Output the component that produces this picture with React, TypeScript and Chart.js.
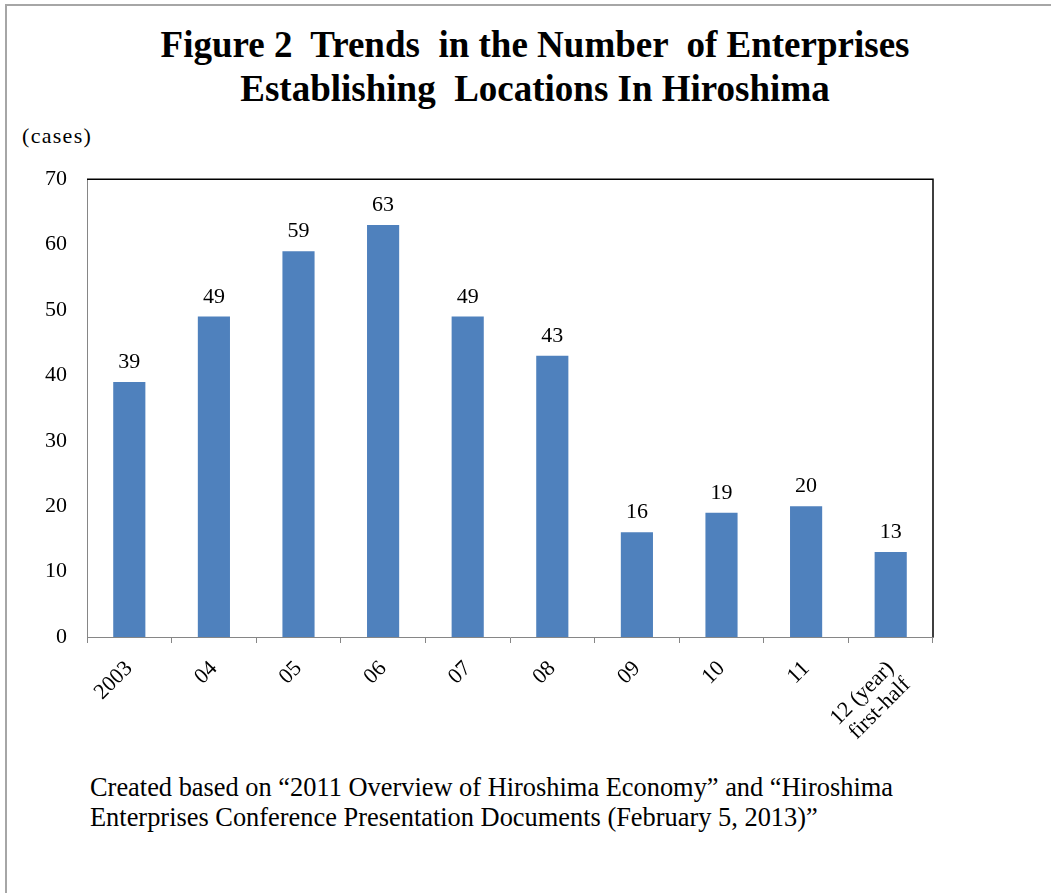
import React, { useEffect, useRef } from 'react';
import { Chart, registerables } from 'chart.js';
Chart.register(...registerables);

const categories: (string | string[])[] = ['2003', '04', '05', '06', '07', '08', '09', '10', '11', ['12 (year)', 'first-half']];
const values = [39, 49, 59, 63, 49, 43, 16, 19, 20, 13];
const yMin = 0;
const yMax = 70;
const yStep = 10;
const titleLines = ['Figure 2  Trends  in the Number  of Enterprises', 'Establishing  Locations In Hiroshima'];
const unitLabel = '(cases)';
const noteLines = [
  'Created based on \u201C2011 Overview of Hiroshima Economy\u201D and \u201CHiroshima',
  'Enterprises Conference Presentation Documents (February 5, 2013)\u201D',
];

const SERIF = "'Liberation Serif', 'Times New Roman', serif";

const frameAndLabels = {
  id: 'frameAndLabels',
  afterDraw(chart: any) {
    const { ctx, chartArea } = chart;
    ctx.save();
    ctx.strokeStyle = '#000000';
    ctx.lineWidth = 1.5;
    ctx.beginPath();
    ctx.moveTo(chartArea.left, chartArea.top);
    ctx.lineTo(chartArea.right, chartArea.top);
    ctx.lineTo(chartArea.right, chartArea.bottom);
    ctx.stroke();
    const meta = chart.getDatasetMeta(0);
    ctx.fillStyle = '#000000';
    ctx.font = `22px ${SERIF}`;
    ctx.textAlign = 'center';
    ctx.textBaseline = 'alphabetic';
    meta.data.forEach((bar: any, i: number) => {
      ctx.fillText(String(values[i]), bar.x, bar.y - 14);
    });
    ctx.restore();
  },
};

export default function App() {
  const ref = useRef<HTMLCanvasElement>(null);
  useEffect(() => {
    const chart = new Chart(ref.current!, {
      type: 'bar',
      data: {
        labels: categories as any,
        datasets: [
          {
            data: values,
            backgroundColor: '#4F81BD',
            borderWidth: 0,
            barPercentage: 0.38,
            categoryPercentage: 1,
          },
        ],
      },
      options: {
        responsive: false,
        animation: false,
        layout: { padding: { left: 0, right: 118, top: 25, bottom: 0 } },
        plugins: { legend: { display: false }, tooltip: { enabled: false }, title: { display: false } },
        scales: {
          x: {
            grid: { display: true, drawOnChartArea: false, drawTicks: true, tickLength: 6, color: '#868686', offset: true },
            border: { display: true, color: '#868686', width: 1 },
            ticks: { color: '#000', font: { family: SERIF, size: 22, lineHeight: 1.05 }, maxRotation: 45, minRotation: 45, padding: 14, autoSkip: false },
            afterFit: (s: any) => { s.height = 133; },
          },
          y: {
            min: yMin,
            max: yMax,
            grid: { display: false, drawTicks: false },
            border: { display: true, color: '#868686', width: 1 },
            ticks: { stepSize: yStep, color: '#000', font: { family: SERIF, size: 22 }, padding: 20 },
            afterFit: (s: any) => { s.width = 87; },
          },
        },
      },
      plugins: [frameAndLabels],
    });
    return () => chart.destroy();
  }, []);

  return (
    <div style={{ position: 'absolute', left: 0, top: 0, width: 1051, height: 893, background: '#fff', overflow: 'hidden', fontFamily: SERIF, color: '#000' }}>
      <div style={{ position: 'absolute', left: 5, top: 4, width: 1060, height: 900, borderLeft: '2px solid #A6A6A6', borderTop: '2px solid #A6A6A6' }} />
      <div style={{ position: 'absolute', left: 0, top: 23, width: 1070, textAlign: 'center', fontWeight: 'bold', fontSize: 37, lineHeight: '44px', whiteSpace: 'pre' }}>
        {titleLines.map((t, i) => <div key={i}>{t}</div>)}
      </div>
      <div style={{ position: 'absolute', left: 22, top: 123, fontSize: 22, lineHeight: '26px', letterSpacing: '1.3px', whiteSpace: 'pre' }}>{unitLabel}</div>
      <canvas ref={ref} width={1051} height={624} style={{ position: 'absolute', left: 0, top: 146 }} />
      <div style={{ position: 'absolute', left: 90, top: 772, fontSize: 26.4, lineHeight: '30px', whiteSpace: 'pre' }}>
        {noteLines.map((t, i) => <div key={i}>{t}</div>)}
      </div>
    </div>
  );
}
